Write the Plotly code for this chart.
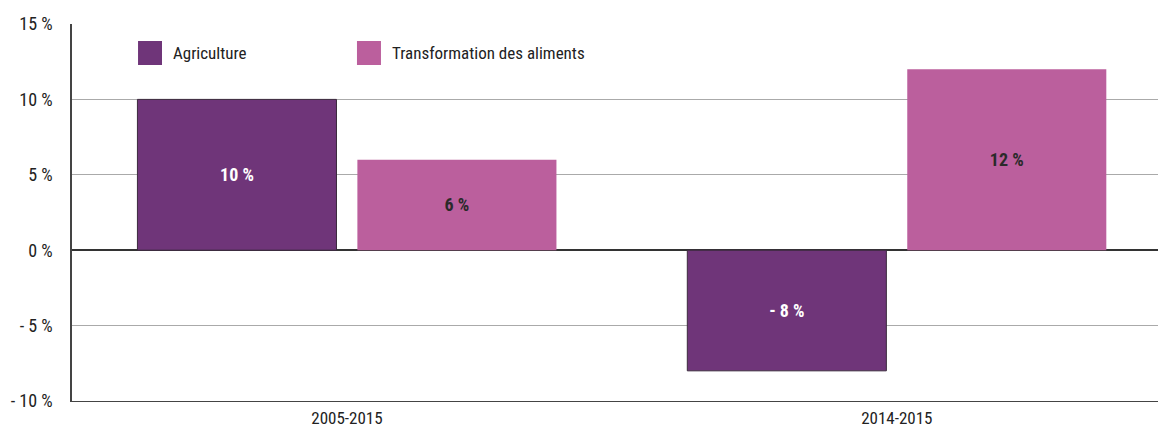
import plotly.graph_objects as go

# données
periodes = ["2005-2015", "2014-2015"]
agriculture = [10, -8]
transformation = [6, 12]
labels_agri = ["10 %", "- 8 %"]
labels_transfo = ["6 %", "12 %"]
ticks_y = [-10, -5, 0, 5, 10, 15]
ticks_y_txt = ["- 10 %", "- 5 %", "0 %", "5 %", "10 %", "15 %"]

couleur_agri = "#6f3579"
couleur_transfo = "#bb5f9d"
police = "Liberation Sans Narrow, Arial Narrow, Roboto Condensed, sans-serif"

fig = go.Figure()
fig.add_trace(go.Bar(
    x=periodes, y=agriculture, name="Agriculture",
    marker=dict(color=couleur_agri, line=dict(color="#3b2a3d", width=1)),
    text=labels_agri, textposition="inside", insidetextanchor="middle",
    textfont=dict(color="white", size=18, family=police, weight="bold"),
))
fig.add_trace(go.Bar(
    x=periodes, y=transformation, name="Transformation des aliments",
    marker=dict(color=couleur_transfo, line=dict(width=0)),
    text=labels_transfo, textposition="inside", insidetextanchor="middle",
    textfont=dict(color="#2a2a2a", size=18, family=police, weight="bold"),
))

# légende : carrés + texte (la légende plotly a des pastilles trop petites)
legende = [("Agriculture", couleur_agri, 0.0608), ("Transformation des aliments", couleur_transfo, 0.2624)]
for nom, coul, x0 in legende:
    fig.add_shape(type="rect", xref="paper", yref="paper", x0=x0, x1=x0 + 0.0221,
                  y0=0.8912, y1=0.9549, fillcolor=coul, line=dict(width=0))
    fig.add_annotation(xref="paper", yref="paper", x=x0 + 0.0304, y=0.923, text=nom,
                       showarrow=False, xanchor="left", yanchor="middle",
                       font=dict(size=17, color="#222", family=police))

fig.update_layout(
    width=1158, height=429,
    margin=dict(l=72, r=0, t=24, b=28),
    plot_bgcolor="white", paper_bgcolor="white",
    barmode="group", bargap=0.2, bargroupgap=0.095,
    font=dict(family=police, size=17, color="#222"),
    showlegend=False,
    uniformtext=dict(minsize=18, mode="show"),
)
fig.update_xaxes(type="category", range=[-0.5, 1.475], showgrid=False,
                 showline=True, linecolor="#444", linewidth=1, ticks="",
                 ticklabelstandoff=2, tickfont=dict(size=17), automargin=False)
fig.update_yaxes(range=[-10, 15], tickvals=ticks_y, ticktext=ticks_y_txt,
                 showgrid=True, gridcolor="#aaaaaa", gridwidth=1,
                 zeroline=True, zerolinecolor="#333", zerolinewidth=1.5,
                 showline=True, linecolor="#444", linewidth=1.5, ticks="",
                 ticklabelstandoff=14, tickfont=dict(size=18), automargin=False)

# pas de marge autour du graphique dans la page (évite aussi les barres de défilement)
fig.write_html("out.html", config={"displayModeBar": False},
               post_script="document.body.style.margin='0';")
